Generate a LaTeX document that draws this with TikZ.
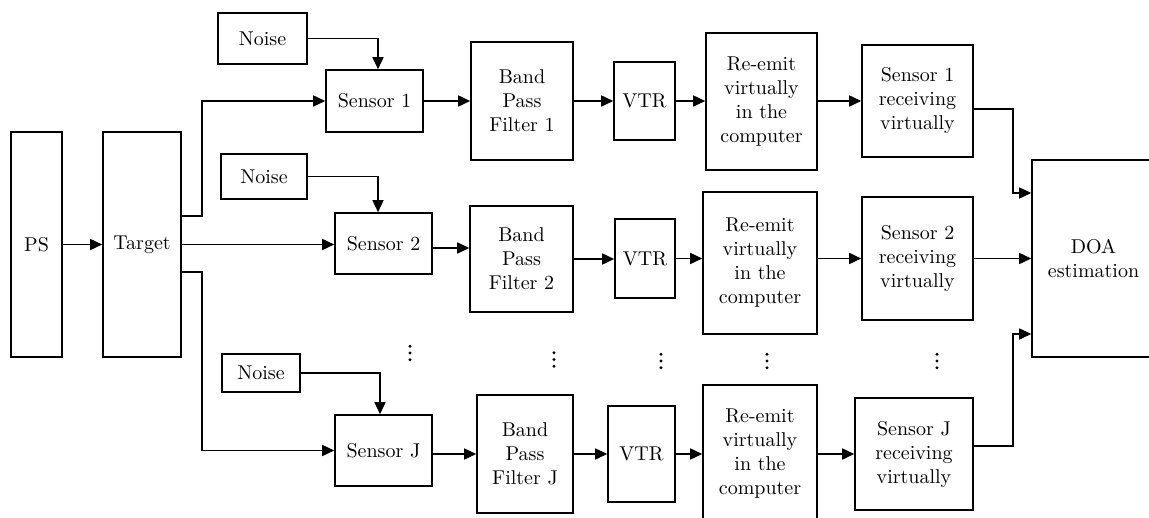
\documentclass[tikz,border=0pt]{standalone}
\usepackage{amsmath,amssymb}
\usetikzlibrary{arrows.meta,positioning}
\tikzset{>/.tip={Triangle[length=6pt,width=5.5pt]}}

\begin{document}
\begin{tikzpicture}[x=0.5pt,y=-0.5pt,line width=0.8pt,
  blk/.style 2 args={draw,align=center,inner sep=0pt,minimum width=#1,minimum height=#2}]
        \useasboundingbox (0,0) rectangle (1149,518);
        % source and target
        \node(PS)[blk={25.5pt}{112.5pt}] at (36.5,244.5){PS};
        \node(T)[blk={39pt}{112.5pt}] at (142,244.5){Target};
        % noise and sensors
        \node(N1)[blk={44.5pt}{25.5pt}] at (262.5,38.5){Noise};
        \node(N2)[blk={43pt}{22.5pt}] at (264,176.5){Noise};
        \node(NJ)[blk={39pt}{19pt}] at (261,373){Noise};
        \node(S1)[blk={48.5pt}{31pt}] at (374.5,101){Sensor 1};
        \node(S2)[blk={48.5pt}{30.5pt}] at (383.5,243.5){Sensor 2};
        \node(SJ)[blk={48.5pt}{35.5pt}] at (383.5,450.5){Sensor J};
        % band pass filters
        \node(F1)[blk={51pt}{59pt}] at (522,101){Band\\Pass\\Filter 1};
        \node(F2)[blk={51.5pt}{53pt}] at (521.5,259){Band\\Pass\\Filter 2};
        \node(FJ)[blk={48pt}{59pt}] at (525,454){Band\\Pass\\Filter J};
        % VTR
        \node(V1)[blk={30.5pt}{39pt}] at (644.5,101){VTR};
        \node(V2)[blk={30pt}{39.5pt}] at (645,258.5){VTR};
        \node(VJ)[blk={33.5pt}{48pt}] at (641.5,454){VTR};
        % re-emit
        \node(R1)[blk={55.5pt}{68.5pt}] at (761.5,101.5){Re-emit\\virtually\\in the\\computer};
        \node(R2)[blk={57pt}{71pt}] at (760,263){Re-emit\\virtually\\in the\\computer};
        \node(RJ)[blk={57pt}{68.5pt}] at (760,453.5){Re-emit\\virtually\\in the\\computer};
        % receiving
        \node(C1)[blk={55.5pt}{56pt}] at (917.5,101){Sensor 1\\receiving\\virtually};
        \node(C2)[blk={55.5pt}{61.5pt}] at (917.5,258.5){Sensor 2\\receiving\\virtually};
        \node(CJ)[blk={59pt}{56pt}] at (914,454){Sensor J\\receiving\\virtually};
        \node(D)[blk={61.5pt}{98.5pt}] at (1093.5,258.5){DOA\\estimation};
        % dots
        \coordinate(dS) at (410,353);
        \coordinate(dF) at (554,359.5);
        \coordinate(dV) at (661,361);
        \coordinate(dR) at (767,361);
        \coordinate(dC) at (937,361);
        \foreach \p in {dS,dF,dV,dR,dC}
          \foreach \k in {-1,0,1}
            \fill ([yshift=\k*3.4pt]\p) circle (0.8pt);
        % connectors
        \draw[->] (PS) -- (T);
        \draw[->] ([yshift=14.25pt]T.east) -- ++(10pt,0) |- (S1);
        \draw[->] (T.east) -- (T.east -| S2.west);
        \draw[->] ([yshift=-13.75pt]T.east) -- ++(10pt,0) |- (SJ);
        \draw[->] (N1) -| ([xshift=1.75pt]S1.north);
        \draw[->] (N2) -| ([xshift=-2.75pt]S2.north);
        \draw[->] (NJ) -| ([xshift=-1.75pt]SJ.north);
        \draw[->] (S1) -- (F1);
        \draw[->] (F1) -- (V1);
        \draw[->] (V1.east) -- (V1.east -| R1.west);
        \draw[->] (C1.west -| R1.east) -- (C1.west);
        \draw[->] ([yshift=-2.25pt]S2.east) -- ([yshift=-2.25pt]S2.east -| F2.west);
        \draw[->] (F2.east) -- (F2.east -| V2.west);
        \draw[->] (V2.east) -- (V2.east -| R2.west);
        \draw[->] (C2.west -| R2.east) -- (C2.west);
        \draw[->] (C2.east) -- (C2.east -| D.west);
        \draw[->] (FJ.west -| SJ.east) -- (FJ.west);
        \draw[->] (FJ) -- (VJ);
        \draw[->] (VJ.east) -- (VJ.east -| RJ.west);
        \draw[->] (CJ.west -| RJ.east) -- (CJ.west);
        \draw[->] ([yshift=-4pt]C1.east) -- ++(19.5pt,0) |- ([yshift=32.75pt]D.west);
        \draw[->] ([yshift=4pt]CJ.east) -- ++(19.5pt,0) |- ([yshift=-37.75pt]D.west);
      \end{tikzpicture}
\end{document}
